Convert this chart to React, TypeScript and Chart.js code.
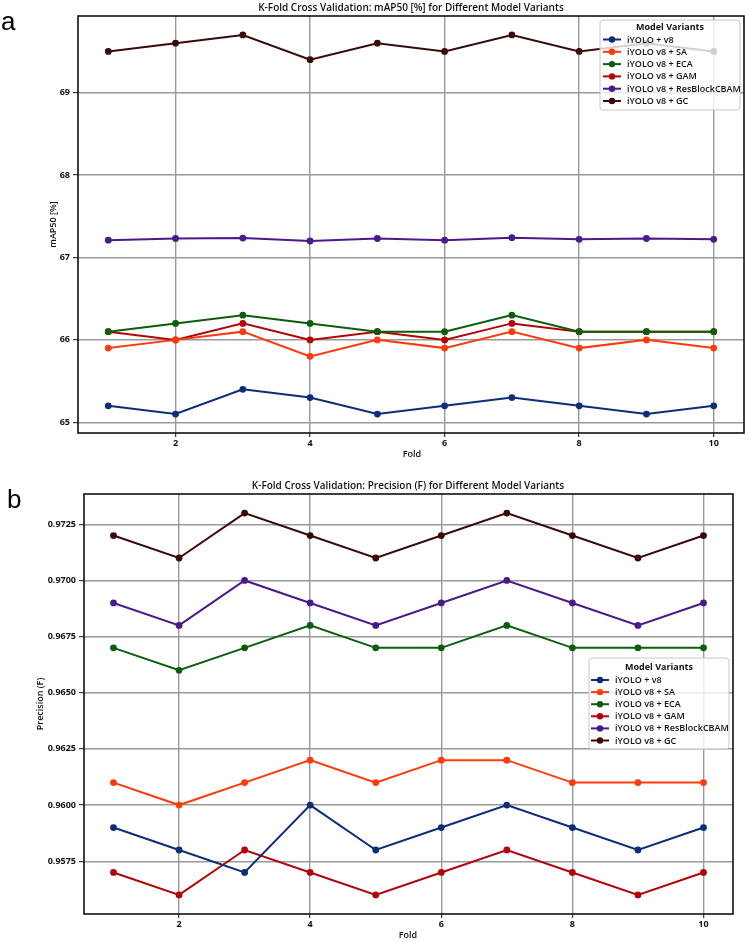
import React, { useEffect, useRef } from "react";
import { Chart, registerables } from "chart.js";

Chart.register(...registerables);

const folds = [1, 2, 3, 4, 5, 6, 7, 8, 9, 10];
const seriesNames = [
  "iYOLO + v8",
  "iYOLO v8 + SA",
  "iYOLO v8 + ECA",
  "iYOLO v8 + GAM",
  "iYOLO v8 + ResBlockCBAM",
  "iYOLO v8 + GC",
];
const seriesColors = ["#0b2d7a", "#ff3a0a", "#0b5e0b", "#b0060a", "#4a1a8a", "#3a0a0a"];

// Panel a: mAP50 [%]
const mapV8 = [65.2, 65.1, 65.4, 65.3, 65.1, 65.2, 65.3, 65.2, 65.1, 65.2];
const mapSA = [65.9, 66.0, 66.1, 65.8, 66.0, 65.9, 66.1, 65.9, 66.0, 65.9];
const mapECA = [66.1, 66.2, 66.3, 66.2, 66.1, 66.1, 66.3, 66.1, 66.1, 66.1];
const mapGAM = [66.1, 66.0, 66.2, 66.0, 66.1, 66.0, 66.2, 66.1, 66.1, 66.1];
const mapCBAM = [67.21, 67.23, 67.235, 67.2, 67.23, 67.21, 67.24, 67.22, 67.23, 67.22];
const mapGC = [69.5, 69.6, 69.7, 69.4, 69.6, 69.5, 69.7, 69.5, 69.6, 69.5];

// Panel b: Precision (F)
const precV8 = [0.959, 0.958, 0.957, 0.96, 0.958, 0.959, 0.96, 0.959, 0.958, 0.959];
const precSA = [0.961, 0.96, 0.961, 0.962, 0.961, 0.962, 0.962, 0.961, 0.961, 0.961];
const precECA = [0.967, 0.966, 0.967, 0.968, 0.967, 0.967, 0.968, 0.967, 0.967, 0.967];
const precGAM = [0.957, 0.956, 0.958, 0.957, 0.956, 0.957, 0.958, 0.957, 0.956, 0.957];
const precCBAM = [0.969, 0.968, 0.97, 0.969, 0.968, 0.969, 0.97, 0.969, 0.968, 0.969];
const precGC = [0.972, 0.971, 0.973, 0.972, 0.971, 0.972, 0.973, 0.972, 0.971, 0.972];

const foldTicks = [2, 4, 6, 8, 10];
const mapTicks = [65, 66, 67, 68, 69];
const precTicks = [0.9575, 0.96, 0.9625, 0.965, 0.9675, 0.97, 0.9725];

const FONT = "'Open Sans', 'DejaVu Sans', sans-serif";

type Panel = {
  top: number;
  height: number;
  area: { left: number; top: number; right: number; bottom: number };
  series: number[][];
  yMin: number;
  yMax: number;
  yTicks: number[];
  yFmt: (v: number) => string;
  title: string;
  titleX: number;
  titleY: number;
  yLabel: string;
  yLabelX: number;
  xLabelX: number;
  xLabelY: number;
  panelLabel: string;
  panelX: number;
  panelY: number;
  legend: { x: number; y: number; w: number; h: number; titleY: number; y0: number; step: number; hx: number; tx: number };
};

function ChartPanel({ p }: { p: Panel }) {
  const ref = useRef<HTMLCanvasElement | null>(null);
  useEffect(() => {
    const canvas = ref.current;
    if (!canvas) return;
    const a = p.area;
    const decor = {
      id: "decor",
      afterDraw(chart: any) {
        const ctx = chart.ctx as CanvasRenderingContext2D;
        const ca = chart.chartArea;
        ctx.save();
        // frame
        ctx.strokeStyle = "#111";
        ctx.lineWidth = 1.6;
        ctx.strokeRect(ca.left, ca.top, ca.right - ca.left, ca.bottom - ca.top);
        // title
        ctx.fillStyle = "#111";
        ctx.font = `600 10px ${FONT}`;
        ctx.textAlign = "center";
        ctx.textBaseline = "middle";
        ctx.fillText(p.title, p.titleX, p.titleY);
        // x label
        ctx.font = `600 9px ${FONT}`;
        ctx.fillText("Fold", p.xLabelX, p.xLabelY);
        // y label
        ctx.save();
        ctx.translate(p.yLabelX, (ca.top + ca.bottom) / 2);
        ctx.rotate(-Math.PI / 2);
        ctx.fillText(p.yLabel, 0, 0);
        ctx.restore();
        // panel label
        ctx.font = `400 26px 'Liberation Sans', Arial, sans-serif`;
        ctx.textAlign = "left";
        ctx.textBaseline = "alphabetic";
        ctx.fillStyle = "#000";
        ctx.fillText(p.panelLabel, p.panelX, p.panelY);
        // legend
        const L = p.legend;
        ctx.beginPath();
        const r = 3;
        ctx.moveTo(L.x + r, L.y);
        ctx.lineTo(L.x + L.w - r, L.y);
        ctx.quadraticCurveTo(L.x + L.w, L.y, L.x + L.w, L.y + r);
        ctx.lineTo(L.x + L.w, L.y + L.h - r);
        ctx.quadraticCurveTo(L.x + L.w, L.y + L.h, L.x + L.w - r, L.y + L.h);
        ctx.lineTo(L.x + r, L.y + L.h);
        ctx.quadraticCurveTo(L.x, L.y + L.h, L.x, L.y + L.h - r);
        ctx.lineTo(L.x, L.y + r);
        ctx.quadraticCurveTo(L.x, L.y, L.x + r, L.y);
        ctx.closePath();
        ctx.fillStyle = "rgba(255,255,255,0.8)";
        ctx.fill();
        ctx.strokeStyle = "#c8c8c8";
        ctx.lineWidth = 1;
        ctx.stroke();
        ctx.fillStyle = "#111";
        ctx.font = `700 9px ${FONT}`;
        ctx.textAlign = "center";
        ctx.textBaseline = "middle";
        ctx.fillText("Model Variants", L.x + L.w / 2, L.titleY);
        ctx.font = `600 9px ${FONT}`;
        ctx.textAlign = "left";
        chart.data.datasets.forEach((ds: any, i: number) => {
          const y = L.y0 + i * L.step;
          ctx.strokeStyle = ds.borderColor;
          ctx.lineWidth = 2;
          ctx.beginPath();
          ctx.moveTo(L.hx, y);
          ctx.lineTo(L.hx + 18, y);
          ctx.stroke();
          ctx.fillStyle = ds.borderColor;
          ctx.beginPath();
          ctx.arc(L.hx + 9, y, 3.2, 0, Math.PI * 2);
          ctx.fill();
          ctx.fillStyle = "#111";
          ctx.fillText(ds.label, L.tx, y + 0.5);
        });
        ctx.restore();
      },
    };
    const chart = new Chart(canvas, {
      type: "line",
      data: {
        datasets: p.series.map((vals, i) => ({
          label: seriesNames[i],
          data: folds.map((f, j) => ({ x: f, y: vals[j] })),
          borderColor: seriesColors[i],
          backgroundColor: seriesColors[i],
          pointBackgroundColor: seriesColors[i],
          pointBorderColor: seriesColors[i],
          borderWidth: 2,
          pointRadius: 3.4,
          pointBorderWidth: 0,
          tension: 0,
        })),
      },
      options: {
        animation: false,
        responsive: false,
        devicePixelRatio: 1,
        layout: { padding: { left: 0, top: a.top, right: 748 - a.right, bottom: 0 } },
        plugins: { legend: { display: false }, tooltip: { enabled: false }, title: { display: false } },
        scales: {
          x: {
            type: "linear",
            min: 0.55,
            max: 10.45,
            afterBuildTicks: (s: any) => {
              s.ticks = foldTicks.map((v) => ({ value: v }));
            },
            afterFit: (s: any) => {
              s.height = p.height - a.bottom;
            },
            ticks: {
              color: "#111",
              font: { family: FONT, size: 9, weight: "bold" },
              padding: 1,
              maxRotation: 0,
              callback: (v: any) => String(v),
            },
            grid: { color: "#999999", lineWidth: 1.4, tickColor: "#111", tickLength: 4, tickWidth: 1 },
            border: { display: false },
          },
          y: {
            type: "linear",
            min: p.yMin,
            max: p.yMax,
            afterBuildTicks: (s: any) => {
              s.ticks = p.yTicks.map((v) => ({ value: v }));
            },
            afterFit: (s: any) => {
              s.width = a.left;
            },
            ticks: {
              color: "#111",
              font: { family: FONT, size: 9, weight: "bold" },
              padding: 3,
              callback: (v: any) => p.yFmt(Number(v)),
            },
            grid: { color: "#999999", lineWidth: 1.4, tickColor: "#111", tickLength: 5, tickWidth: 1 },
            border: { display: false },
          },
        },
      },
      plugins: [decor],
    } as any);
    return () => chart.destroy();
  }, [p]);
  return (
    <canvas
      ref={ref}
      width={748}
      height={p.height}
      style={{ position: "absolute", left: 0, top: p.top, width: 748, height: p.height }}
    />
  );
}

const panelA: Panel = {
  top: 0,
  height: 470,
  area: { left: 78, top: 16, right: 744, bottom: 433 },
  series: [mapV8, mapSA, mapECA, mapGAM, mapCBAM, mapGC],
  yMin: 64.87,
  yMax: 69.93,
  yTicks: mapTicks,
  yFmt: (v) => String(Math.round(v)),
  title: "K-Fold Cross Validation: mAP50 [%] for Different Model Variants",
  titleX: 411,
  titleY: 8,
  yLabel: "mAP50 [%]",
  yLabelX: 53,
  xLabelX: 412,
  xLabelY: 454,
  panelLabel: "a",
  panelX: 1,
  panelY: 30,
  legend: { x: 600, y: 20, w: 140, h: 90, titleY: 27, y0: 39.5, step: 12.3, hx: 603, tx: 627 },
};

const panelB: Panel = {
  top: 470,
  height: 471,
  area: { left: 84, top: 24, right: 733, bottom: 444 },
  series: [precV8, precSA, precECA, precGAM, precCBAM, precGC],
  yMin: 0.95515,
  yMax: 0.97385,
  yTicks: precTicks,
  yFmt: (v) => v.toFixed(4),
  title: "K-Fold Cross Validation: Precision (F) for Different Model Variants",
  titleX: 408,
  titleY: 16.5,
  yLabel: "Precision (F)",
  yLabelX: 40,
  xLabelX: 408,
  xLabelY: 465,
  panelLabel: "b",
  panelX: 7,
  panelY: 38,
  legend: { x: 589, y: 188, w: 140, h: 91, titleY: 197.5, y0: 210, step: 12.1, hx: 591, tx: 615 },
};

export default function App() {
  return (
    <div style={{ position: "fixed", left: 0, top: 0, width: 748, height: 941, background: "#fff" }}>
      <ChartPanel p={panelA} />
      <ChartPanel p={panelB} />
    </div>
  );
}
